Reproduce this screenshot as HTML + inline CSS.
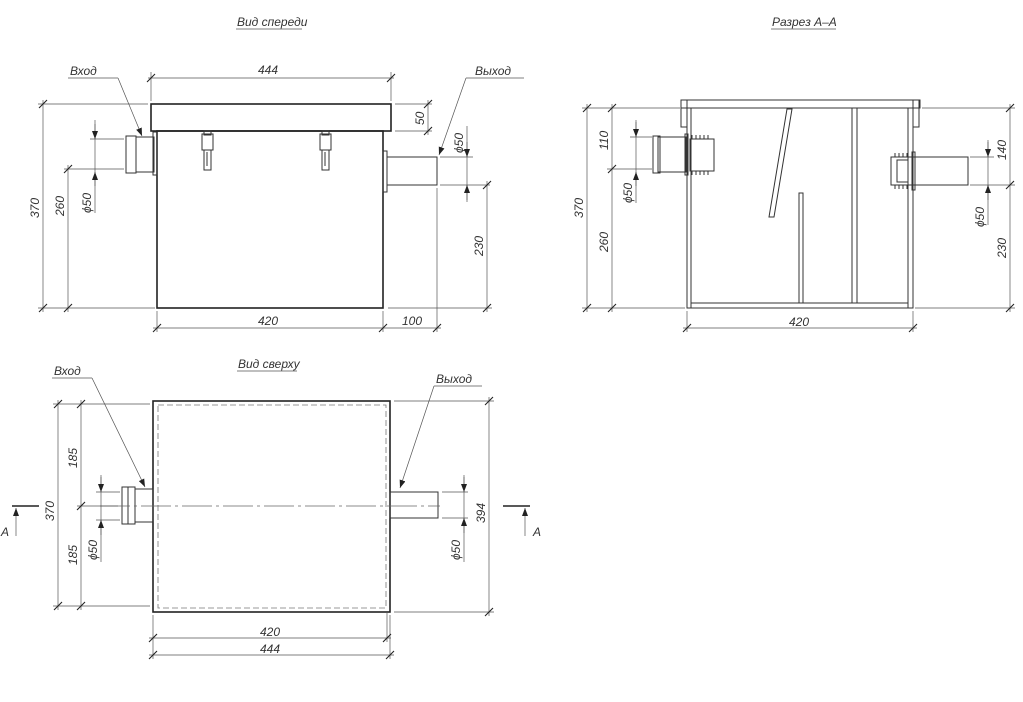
<!DOCTYPE html>
<html><head><meta charset="utf-8"><style>
html,body{margin:0;padding:0;background:#fff;}
svg{display:block}
text{font-family:"Liberation Sans",sans-serif;font-style:italic;fill:#333;font-size:12px}
.t{stroke:#222;stroke-width:1.6;fill:none}
.m{stroke:#333;stroke-width:1;fill:none}
.d{stroke:#555;stroke-width:0.7;fill:none}
.k{stroke:#222;stroke-width:1.1}
</style></head><body>
<svg width="1023" height="702" viewBox="0 0 1023 702" xmlns="http://www.w3.org/2000/svg">
<defs>
<marker id="ar" markerWidth="8" markerHeight="6" refX="8" refY="3" orient="auto" markerUnits="userSpaceOnUse"><path d="M0,0 L8,3 L0,6 z" fill="#222"/></marker>
</defs>

<!-- ============ FRONT VIEW ============ -->
<text x="237" y="26">Вид спереди</text><line class="d" x1="236" y1="29" x2="302" y2="29"/>
<rect class="t" x="151" y="104" width="240" height="27"/>
<rect class="t" x="157" y="131" width="226" height="177"/>
<rect class="m" x="153" y="132" width="4" height="43"/>
<rect class="m" x="136" y="137" width="18" height="35"/>
<rect class="m" x="126" y="136" width="10" height="37"/>
<rect class="m" x="383" y="151" width="4" height="41"/>
<rect class="m" x="387" y="157" width="50" height="28"/>
<!-- clamps -->
<g class="m"><rect x="202" y="134" width="11" height="16"/><rect x="204" y="150" width="7" height="20"/><line x1="207" y1="152" x2="207" y2="166"/><rect x="204" y="131" width="7" height="4"/></g>
<g class="m"><rect x="320" y="134" width="11" height="16"/><rect x="322" y="150" width="7" height="20"/><line x1="325" y1="152" x2="325" y2="166"/><rect x="322" y="131" width="7" height="4"/></g>
<!-- dims -->
<g class="d">
<line x1="151" y1="101" x2="151" y2="72"/><line x1="391" y1="101" x2="391" y2="72"/><line x1="148" y1="78" x2="394" y2="78"/>
<line x1="38" y1="104" x2="148" y2="104"/><line x1="43" y1="100" x2="43" y2="312"/><line x1="38" y1="308" x2="155" y2="308"/>
<line x1="64" y1="169" x2="124" y2="169"/><line x1="68" y1="165" x2="68" y2="312"/>
<line x1="90" y1="139" x2="124" y2="139"/><line x1="95" y1="120" x2="95" y2="213"/>
<line x1="395" y1="104" x2="432" y2="104"/><line x1="395" y1="131" x2="432" y2="131"/><line x1="428" y1="100" x2="428" y2="135"/>
<line x1="440" y1="157" x2="473" y2="157"/><line x1="440" y1="185" x2="490" y2="185"/><line x1="467" y1="126" x2="467" y2="202"/>
<line x1="487" y1="181" x2="487" y2="312"/><line x1="388" y1="308" x2="492" y2="308"/>
<line x1="157" y1="311" x2="157" y2="332"/><line x1="383" y1="311" x2="383" y2="332"/><line x1="437" y1="188" x2="437" y2="332"/>
<line x1="153" y1="328" x2="441" y2="328"/>
</g>
<g class="k">
<line x1="147" y1="82" x2="155" y2="74"/><line x1="387" y1="82" x2="395" y2="74"/>
<line x1="39" y1="108" x2="47" y2="100"/><line x1="39" y1="312" x2="47" y2="304"/>
<line x1="64" y1="173" x2="72" y2="165"/><line x1="64" y1="312" x2="72" y2="304"/>
<line x1="424" y1="108" x2="432" y2="100"/><line x1="424" y1="135" x2="432" y2="127"/>
<line x1="483" y1="189" x2="491" y2="181"/><line x1="483" y1="312" x2="491" y2="304"/>
<line x1="153" y1="332" x2="161" y2="324"/><line x1="379" y1="332" x2="387" y2="324"/><line x1="433" y1="332" x2="441" y2="324"/>
</g>
<line class="d" x1="95" y1="124" x2="95" y2="139" marker-end="url(#ar)"/>
<line class="d" x1="95" y1="186" x2="95" y2="172" marker-end="url(#ar)"/>
<line class="d" x1="467" y1="142" x2="467" y2="157" marker-end="url(#ar)"/>
<line class="d" x1="467" y1="200" x2="467" y2="185" marker-end="url(#ar)"/>
<text x="258" y="74">444</text>
<text x="258" y="325">420</text>
<text x="402" y="325">100</text>
<text transform="translate(39,218) rotate(-90)">370</text>
<text transform="translate(64,216) rotate(-90)">260</text>
<text transform="translate(91,213) rotate(-90)">ϕ50</text>
<text transform="translate(424,125) rotate(-90)">50</text>
<text transform="translate(463,153) rotate(-90)">ϕ50</text>
<text transform="translate(483,256) rotate(-90)">230</text>
<text x="70" y="75" font-size="14">Вход</text><line class="d" x1="68" y1="78" x2="118" y2="78"/>
<line class="d" x1="118" y1="78" x2="142" y2="136" marker-end="url(#ar)"/>
<text x="475" y="75" font-size="14">Выход</text><line class="d" x1="466" y1="78" x2="524" y2="78"/>
<line class="d" x1="466" y1="78" x2="439" y2="155" marker-end="url(#ar)"/>

<!-- ============ SECTION A-A ============ -->
<text x="772" y="26">Разрез А–А</text><line class="d" x1="771" y1="29" x2="836" y2="29"/>
<rect class="m" x="681" y="100" width="239" height="8"/>
<rect class="m" x="681" y="100" width="6" height="27"/>
<rect class="m" x="913" y="100" width="6" height="27"/>
<rect class="m" x="687" y="108" width="4" height="200"/>
<rect class="m" x="908" y="108" width="5" height="200"/>
<rect class="m" x="691" y="303" width="217" height="5"/>
<polygon class="m" points="787,109 792,109 774,217 769,217"/>
<rect class="m" x="799" y="193" width="4" height="110"/>
<rect class="m" x="852" y="108" width="5" height="195"/>
<!-- inlet -->
<rect class="m" x="658" y="137" width="28" height="35"/>
<rect class="m" x="653" y="136" width="7" height="37"/>
<rect class="m" x="690" y="139" width="24" height="32"/>
<rect class="m" x="685" y="134" width="3" height="41"/>
<path class="m" d="M692,139 v-4 M696,139 v-4 M700,139 v-4 M704,139 v-4 M708,139 v-4 M692,171 v4 M696,171 v4 M700,171 v4 M704,171 v4 M708,171 v4"/>
<!-- outlet -->
<rect class="m" x="891" y="157" width="77" height="28"/>
<rect class="m" x="897" y="160" width="11" height="22"/>
<rect class="m" x="912" y="152" width="3" height="38"/>
<path class="m" d="M895,157 v-4 M899,157 v-4 M903,157 v-4 M907,157 v-4 M895,185 v4 M899,185 v4 M903,185 v4 M907,185 v4"/>
<g class="d">
<line x1="582" y1="108" x2="680" y2="108"/><line x1="587" y1="104" x2="587" y2="312"/><line x1="582" y1="308" x2="685" y2="308"/>
<line x1="612" y1="104" x2="612" y2="312"/><line x1="607" y1="169" x2="652" y2="169"/><line x1="630" y1="137" x2="652" y2="137"/>
<line x1="636" y1="120" x2="636" y2="203"/>
<line x1="922" y1="108" x2="1015" y2="108"/><line x1="970" y1="185" x2="1015" y2="185"/><line x1="915" y1="308" x2="1015" y2="308"/>
<line x1="970" y1="157" x2="994" y2="157"/>
<line x1="1010" y1="104" x2="1010" y2="312"/><line x1="988" y1="140" x2="988" y2="225"/>
<line x1="687" y1="311" x2="687" y2="332"/><line x1="913" y1="311" x2="913" y2="332"/><line x1="683" y1="328" x2="917" y2="328"/>
</g>
<g class="k">
<line x1="583" y1="112" x2="591" y2="104"/><line x1="583" y1="312" x2="591" y2="304"/>
<line x1="608" y1="112" x2="616" y2="104"/><line x1="608" y1="173" x2="616" y2="165"/><line x1="608" y1="312" x2="616" y2="304"/>
<line x1="1006" y1="112" x2="1014" y2="104"/><line x1="1006" y1="189" x2="1014" y2="181"/><line x1="1006" y1="312" x2="1014" y2="304"/>
<line x1="683" y1="332" x2="691" y2="324"/><line x1="909" y1="332" x2="917" y2="324"/>
</g>
<line class="d" x1="636" y1="122" x2="636" y2="137" marker-end="url(#ar)"/>
<line class="d" x1="636" y1="186" x2="636" y2="172" marker-end="url(#ar)"/>
<line class="d" x1="988" y1="142" x2="988" y2="157" marker-end="url(#ar)"/>
<line class="d" x1="988" y1="200" x2="988" y2="185" marker-end="url(#ar)"/>
<text x="789" y="326">420</text>
<text transform="translate(583,218) rotate(-90)">370</text>
<text transform="translate(608,150) rotate(-90)">110</text>
<text transform="translate(608,252) rotate(-90)">260</text>
<text transform="translate(632,203) rotate(-90)">ϕ50</text>
<text transform="translate(1006,160) rotate(-90)">140</text>
<text transform="translate(984,227) rotate(-90)">ϕ50</text>
<text transform="translate(1006,258) rotate(-90)">230</text>

<!-- ============ TOP VIEW ============ -->
<text x="238" y="368">Вид сверху</text><line class="d" x1="237" y1="371" x2="297" y2="371"/>
<rect class="t" x="153" y="401" width="237" height="211"/>
<rect x="158" y="405" width="228" height="203" fill="none" stroke="#777" stroke-width="0.8" stroke-dasharray="6,3"/>
<rect class="m" x="135" y="489" width="18" height="33"/>
<rect class="m" x="122" y="487" width="13" height="37"/>
<rect class="m" x="128" y="487" width="7" height="37"/>
<rect class="m" x="390" y="492" width="48" height="26"/>
<line x1="100" y1="506" x2="440" y2="506" stroke="#666" stroke-width="0.7" stroke-dasharray="30,4,3,4"/>
<g class="d">
<line x1="53" y1="404" x2="150" y2="404"/><line x1="53" y1="606" x2="150" y2="606"/>
<line x1="58" y1="400" x2="58" y2="610"/><line x1="81" y1="400" x2="81" y2="610"/>
<line x1="77" y1="506" x2="118" y2="506"/>
<line x1="96" y1="492" x2="120" y2="492"/><line x1="96" y1="520" x2="120" y2="520"/><line x1="101" y1="475" x2="101" y2="562"/>
<line x1="394" y1="401" x2="494" y2="401"/><line x1="394" y1="612" x2="494" y2="612"/><line x1="489" y1="397" x2="489" y2="616"/>
<line x1="442" y1="492" x2="468" y2="492"/><line x1="442" y1="518" x2="468" y2="518"/><line x1="464" y1="475" x2="464" y2="562"/>
<line x1="153" y1="615" x2="153" y2="659"/><line x1="387" y1="612" x2="387" y2="642"/><line x1="390" y1="615" x2="390" y2="659"/>
<line x1="149" y1="638" x2="391" y2="638"/><line x1="149" y1="655" x2="394" y2="655"/>
</g>
<g class="k">
<line x1="54" y1="408" x2="62" y2="400"/><line x1="54" y1="610" x2="62" y2="602"/>
<line x1="77" y1="408" x2="85" y2="400"/><line x1="77" y1="510" x2="85" y2="502"/><line x1="77" y1="610" x2="85" y2="602"/>
<line x1="485" y1="405" x2="493" y2="397"/><line x1="485" y1="616" x2="493" y2="608"/>
<line x1="149" y1="642" x2="157" y2="634"/><line x1="383" y1="642" x2="391" y2="634"/>
<line x1="149" y1="659" x2="157" y2="651"/><line x1="386" y1="659" x2="394" y2="651"/>
</g>
<line class="d" x1="101" y1="477" x2="101" y2="492" marker-end="url(#ar)"/>
<line class="d" x1="101" y1="535" x2="101" y2="520" marker-end="url(#ar)"/>
<line class="d" x1="464" y1="477" x2="464" y2="492" marker-end="url(#ar)"/>
<line class="d" x1="464" y1="533" x2="464" y2="518" marker-end="url(#ar)"/>
<text x="260" y="636">420</text>
<text x="260" y="653">444</text>
<text transform="translate(54,521) rotate(-90)">370</text>
<text transform="translate(77,468) rotate(-90)">185</text>
<text transform="translate(77,565) rotate(-90)">185</text>
<text transform="translate(97,560) rotate(-90)">ϕ50</text>
<text transform="translate(485,523) rotate(-90)">394</text>
<text transform="translate(460,560) rotate(-90)">ϕ50</text>
<text x="54" y="375" font-size="14">Вход</text><line class="d" x1="52" y1="378" x2="92" y2="378"/>
<line class="d" x1="92" y1="378" x2="145" y2="487" marker-end="url(#ar)"/>
<text x="436" y="383" font-size="14">Выход</text><line class="d" x1="434" y1="386" x2="482" y2="386"/>
<line class="d" x1="434" y1="386" x2="400" y2="488" marker-end="url(#ar)"/>
<!-- section marks -->
<line x1="12" y1="506" x2="39" y2="506" stroke="#222" stroke-width="1.6"/>
<line class="d" x1="16" y1="536" x2="16" y2="508" marker-end="url(#ar)"/>
<text x="1" y="536" font-size="14">A</text>
<line x1="503" y1="506" x2="530" y2="506" stroke="#222" stroke-width="1.6"/>
<line class="d" x1="525" y1="536" x2="525" y2="508" marker-end="url(#ar)"/>
<text x="533" y="536" font-size="14">A</text>
</svg>
</body></html>
